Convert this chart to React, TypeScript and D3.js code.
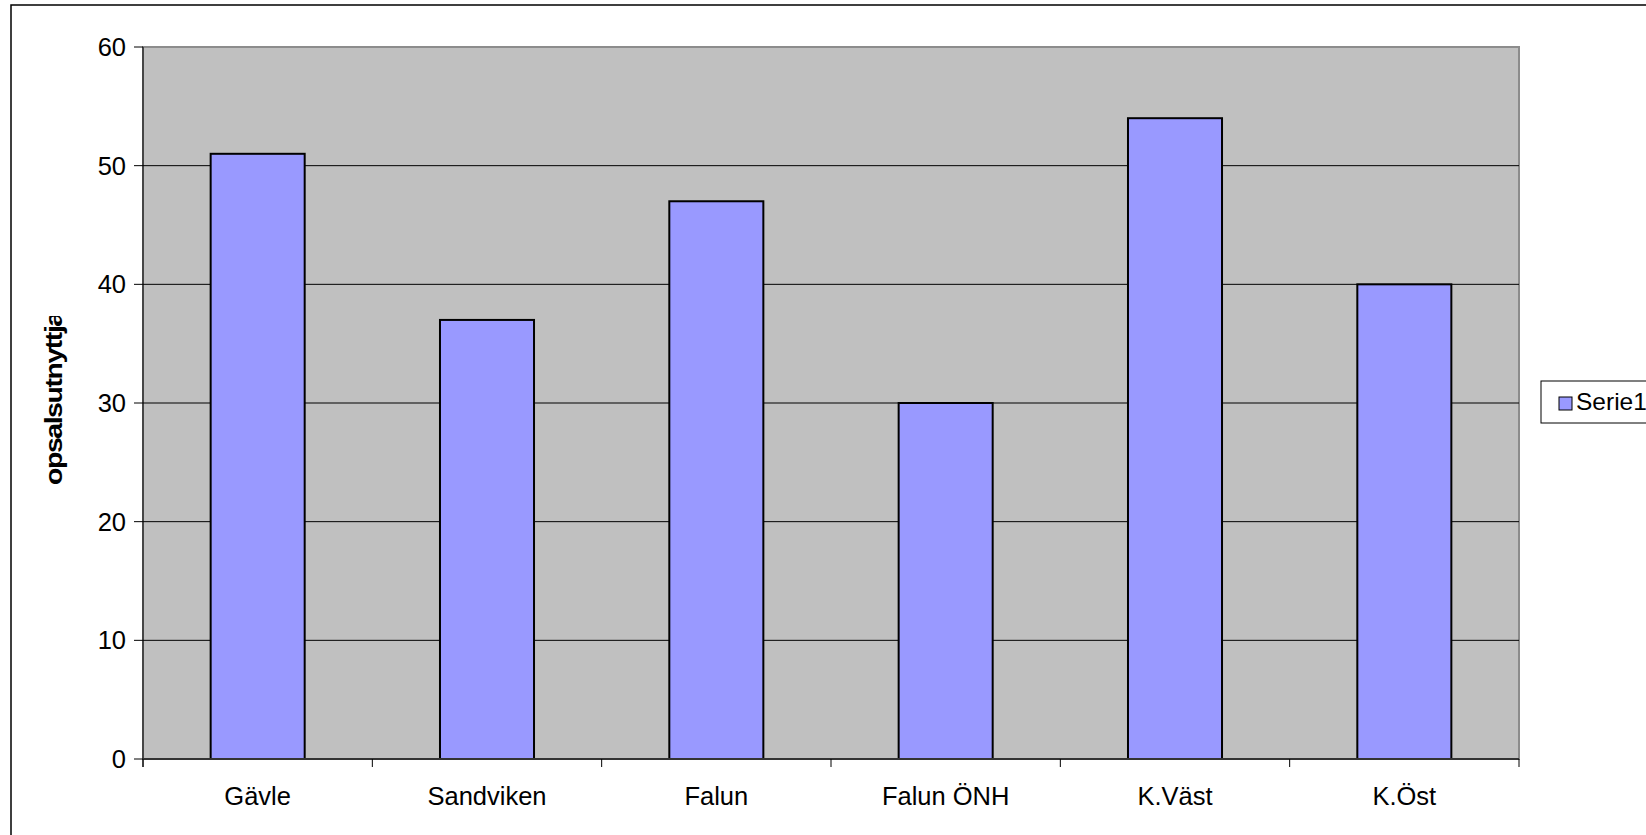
import React from "react";
import * as d3 from "d3";

const categories = ["Gävle", "Sandviken", "Falun", "Falun ÖNH", "K.Väst", "K.Öst"];
const values = [51, 37, 47, 30, 54, 40];
const yTicks = [0, 10, 20, 30, 40, 50, 60];
const seriesName = "Serie1";
const yTitle = "opsalsutnyttjande";

const W = 1646;
const H = 835;
const plot = { left: 143, right: 1519, top: 47, bottom: 759 };
const FONT = "'Liberation Sans', Arial, sans-serif";

export default function App() {
  const x = d3
    .scaleBand<string>()
    .domain(categories)
    .range([plot.left, plot.right])
    .paddingInner(0.59)
    .paddingOuter(0.295);
  const y = d3.scaleLinear().domain([0, 60]).range([plot.bottom, plot.top]);
  const step = x.step();
  const boundaries = d3.range(categories.length + 1).map((i) => plot.left + i * step);

  return (
    <svg
      width={W}
      height={H}
      style={{ position: "absolute", left: 0, top: 0, background: "#fff" }}
      fontFamily={FONT}
    >
      <defs>
        <clipPath id="titleClip">
          <rect x={0} y={316} width={120} height={300} />
        </clipPath>
      </defs>
      {/* outer chart border (top and left visible) */}
      <rect x={11} y={5} width={W + 20} height={H + 20} fill="#fff" stroke="#000" strokeWidth={1.5} />

      {/* plot area */}
      <rect
        x={plot.left}
        y={plot.top}
        width={plot.right - plot.left}
        height={plot.bottom - plot.top}
        fill="#C0C0C0"
        stroke="#8c8c8c"
        strokeWidth={2}
      />

      {/* gridlines */}
      {yTicks
        .filter((t) => t !== 0 && t !== 60)
        .map((t) => (
          <line key={"g" + t} x1={plot.left} x2={plot.right} y1={y(t)} y2={y(t)} stroke="#000" strokeWidth={1} />
        ))}

      {/* bars */}
      {categories.map((c, i) => (
        <rect
          key={c}
          x={x(c)}
          y={y(values[i])}
          width={x.bandwidth()}
          height={y(0) - y(values[i])}
          fill="#9999FF"
          stroke="#000"
          strokeWidth={2}
        />
      ))}

      {/* y axis */}
      <line x1={plot.left} x2={plot.left} y1={plot.top} y2={plot.bottom + 8} stroke="#000" strokeWidth={1} />
      {yTicks.map((t) => (
        <g key={"yt" + t}>
          <line x1={plot.left - 9} x2={plot.left} y1={y(t)} y2={y(t)} stroke="#000" strokeWidth={1} />
          <text x={126} y={y(t) + 9} textAnchor="end" fontSize={25.5} fill="#000">
            {t}
          </text>
        </g>
      ))}

      {/* x axis */}
      <line x1={plot.left} x2={plot.right} y1={plot.bottom} y2={plot.bottom} stroke="#333" strokeWidth={2} />
      {boundaries.map((b, i) => (
        <line key={"xt" + i} x1={b} x2={b} y1={plot.bottom} y2={plot.bottom + 8} stroke="#000" strokeWidth={1} />
      ))}
      {categories.map((c) => (
        <text
          key={"xl" + c}
          x={(x(c) as number) + x.bandwidth() / 2}
          y={805}
          textAnchor="middle"
          fontSize={25.5}
          fill="#000"
        >
          {c}
        </text>
      ))}

      {/* y title */}
      <g clipPath="url(#titleClip)">
        <text
          transform={`translate(62,485) rotate(-90) scale(1.185,1)`}
          fontSize={24}
          fontWeight="bold"
          fill="#000"
          letterSpacing={-1.2}
        >
          {yTitle}
        </text>
      </g>

      {/* legend */}
      <rect x={1541} y={381} width={140} height={42} fill="#fff" stroke="#000" strokeWidth={1} />
      <rect x={1559} y={397} width={13} height={13} fill="#9999FF" stroke="#000" strokeWidth={1} />
      <text x={1576} y={410} fontSize={24.5} fill="#000">
        {seriesName}
      </text>
    </svg>
  );
}
